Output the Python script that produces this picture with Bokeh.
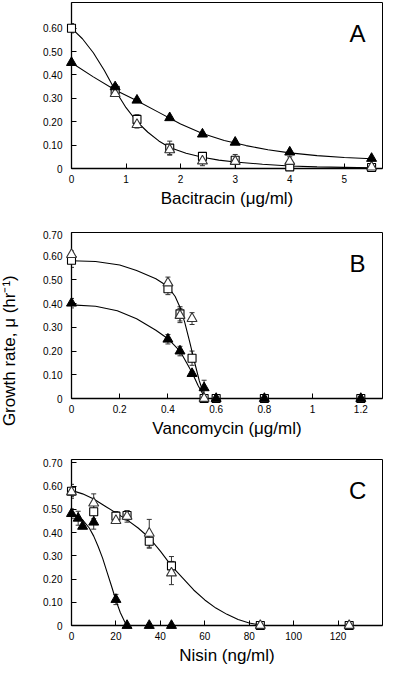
from bokeh.plotting import figure
from bokeh.layouts import column, row
from bokeh.models import ColumnDataSource, Whisker, TeeHead, FixedTicker, Label, Range1d
from bokeh.core.properties import value
from bokeh.embed import file_html
from bokeh.resources import INLINE

FONT = "Liberation Sans"

# ---------------- Panel A : Bacitracin ----------------
bac_sq_x = [0, 0.8, 1.2, 1.8, 2.4, 3, 4, 5.5]
bac_sq_y = [0.60, 0.335, 0.21, 0.087, 0.052, 0.035, 0.007, 0.004]
bac_sq_err = [0.02, 0.01, 0.02, 0.03, 0.015, 0.01, 0, 0]
bac_otri_x = [0.8, 1.2, 1.8, 2.4, 3, 4, 5.5]
bac_otri_y = [0.32, 0.188, 0.08, 0.032, 0.03, 0.03, 0.006]
bac_otri_err = [0.01, 0.015, 0.02, 0.02, 0.03, 0.02, 0]
bac_ftri_x = [0, 0.8, 1.2, 1.8, 2.4, 3, 4, 5.5]
bac_ftri_y = [0.453, 0.349, 0.292, 0.217, 0.147, 0.112, 0.07, 0.043]
bac_ftri_err = [0.005, 0.01, 0.005, 0.005, 0.005, 0.005, 0.005, 0]
bac_fit1_x = [0, 0.4, 0.8, 1.2, 1.6, 2.0, 2.4, 2.8, 3.2, 3.6, 4.0, 4.5, 5.0, 5.5]
bac_fit1_y = [0.452, 0.392, 0.336, 0.29, 0.24, 0.19, 0.15, 0.12, 0.098, 0.08, 0.067, 0.055, 0.047, 0.042]
bac_fit2_x = [0, 0.2, 0.4, 0.6, 0.8, 1.0, 1.2, 1.4, 1.6, 1.8, 2.1, 2.4, 2.7, 3.0, 3.5, 4.0, 4.5, 5.0, 5.5]
bac_fit2_y = [0.60, 0.555, 0.495, 0.42, 0.335, 0.26, 0.2, 0.155, 0.118, 0.09, 0.065, 0.048, 0.036, 0.028, 0.018, 0.011, 0.007, 0.005, 0.003]
bac_xticks = [0, 1, 2, 3, 4, 5]
bac_xlabels = ["0", "1", "2", "3", "4", "5"]

# ---------------- Panel B : Vancomycin ----------------
van_sq_x = [0, 0.4, 0.45, 0.5, 0.55, 0.6, 0.8, 1.2]
van_sq_y = [0.583, 0.463, 0.357, 0.17, 0.0, 0.0, 0.0, 0.0]
van_sq_err = [0.03, 0.025, 0.03, 0.03, 0, 0, 0, 0]
van_otri_x = [0, 0.4, 0.45, 0.5, 0.55]
van_otri_y = [0.607, 0.487, 0.35, 0.337, 0.0]
van_otri_err = [0.015, 0.025, 0.03, 0.025, 0]
van_ftri_x = [0, 0.4, 0.45, 0.5, 0.55, 0.6, 0.8, 1.2]
van_ftri_y = [0.402, 0.25, 0.2, 0.105, 0.045, 0.0, 0.0, 0.0]
van_ftri_err = [0.02, 0.02, 0.02, 0.01, 0.032, 0, 0, 0]
van_fit1_x = [0, 0.1, 0.2, 0.27, 0.35, 0.4, 0.43, 0.45, 0.47, 0.49, 0.51, 0.53, 0.555]
van_fit1_y = [0.581, 0.578, 0.563, 0.54, 0.505, 0.472, 0.43, 0.385, 0.32, 0.24, 0.155, 0.075, 0.0]
van_fit2_x = [0, 0.1, 0.19, 0.27, 0.35, 0.4, 0.45, 0.5, 0.525, 0.555]
van_fit2_y = [0.395, 0.389, 0.37, 0.336, 0.288, 0.252, 0.2, 0.11, 0.055, 0.0]
van_xticks = [0, 0.2, 0.4, 0.6, 0.8, 1.0, 1.2]
van_xlabels = ["0", "0.2", "0.4", "0.6", "0.8", "1", "1.2"]

# ---------------- Panel C : Nisin ----------------
nis_sq_x = [0, 10, 20, 25, 35, 45, 85, 125]
nis_sq_y = [0.578, 0.49, 0.471, 0.474, 0.363, 0.257, 0.0, 0.0]
nis_sq_err = [0.03, 0.03, 0.02, 0.02, 0.03, 0.04, 0, 0]
nis_otri_x = [0, 10, 20, 25, 35, 45, 85, 125]
nis_otri_y = [0.575, 0.527, 0.452, 0.47, 0.397, 0.226, 0.0, 0.0]
nis_otri_err = [0.02, 0.04, 0.01, 0.025, 0.06, 0.05, 0, 0]
nis_ftri_x = [0, 3, 5, 10, 20, 25, 35, 45]
nis_ftri_y = [0.482, 0.462, 0.427, 0.445, 0.112, 0.0, 0.0, 0.0]
nis_ftri_err = [0.02, 0.03, 0.0, 0.03, 0.022, 0, 0, 0]
nis_fit1_x = [0, 5, 10, 15, 20, 25, 30, 35, 40, 45, 50, 55, 60, 65, 70, 75, 80, 85]
nis_fit1_y = [0.582, 0.567, 0.545, 0.515, 0.485, 0.455, 0.42, 0.378, 0.32, 0.257, 0.205, 0.153, 0.11, 0.075, 0.048, 0.026, 0.011, 0.002]
nis_fit2_x = [0, 3, 5, 8, 10, 12, 14, 16, 18, 20, 22, 24, 25]
nis_fit2_y = [0.48, 0.468, 0.455, 0.42, 0.385, 0.34, 0.29, 0.23, 0.17, 0.108, 0.055, 0.015, 0.0]
nis_xticks = [0, 20, 40, 60, 80, 100, 120]
nis_xlabels = ["0", "20", "40", "60", "80", "100", "120"]

y_ticks = [0, 0.1, 0.2, 0.3, 0.4, 0.5, 0.6, 0.7]
y_labels = ["0", "0.10", "0.20", "0.30", "0.40", "0.50", "0.60", "0.70"]

panel_letters = ["A", "B", "C"]
x_titles = ["Bacitracin (\u03bcg/ml)", "Vancomycin (\u03bcg/ml)", "Nisin (ng/ml)"]
y_title = "Growth rate, \u03bc (hr\u207b\u00b9)"

FRAME_H = 166
TITLE_W = 26
PANEL_W = 358
TOTAL_H = 667


def make_panel(xmax, ymax, ytop_tick, xticks, xlabels, xtitle, letter, bottom,
               sq, otri, ftri, fits):
    p = figure(width=PANEL_W, height=2 + FRAME_H + bottom,
               x_range=Range1d(0, xmax), y_range=Range1d(0, ymax),
               output_backend="svg", toolbar_location=None,
               min_border_left=45, min_border_right=2, min_border_top=2,
               min_border_bottom=bottom, background_fill_color="white",
               border_fill_color="white")
    p.xgrid.visible = False
    p.ygrid.visible = False
    p.outline_line_color = "black"
    p.outline_line_width = 1
    p.outline_line_alpha = 1

    for ax in (p.xaxis[0], p.yaxis[0]):
        ax.major_tick_in = 5
        ax.major_tick_out = 0
        ax.minor_tick_in = 0
        ax.minor_tick_out = 0
        ax.axis_line_color = "black"
        ax.axis_line_width = 1.3
        ax.major_tick_line_color = "black"
        ax.major_label_text_font = FONT
        ax.major_label_text_font_size = "10px"
        ax.major_label_text_color = "black"
        ax.axis_label_text_font = FONT
        ax.axis_label_text_font_style = "normal"
        ax.axis_label_text_color = "black"

    p.xaxis.ticker = FixedTicker(ticks=xticks)
    p.xaxis.major_label_overrides = dict(zip(xticks, xlabels))
    p.xaxis.major_label_standoff = 6
    p.xaxis.axis_label = xtitle
    p.xaxis.axis_label_text_font_size = "17px"
    p.xaxis.axis_label_standoff = 3

    yt = [t for t in y_ticks if t <= ytop_tick + 1e-9]
    p.yaxis.ticker = FixedTicker(ticks=yt)
    p.yaxis.major_label_overrides = dict(zip(y_ticks, y_labels))
    p.yaxis.major_label_standoff = 9

    # error bars
    for (xs, ys, es) in (sq, otri, ftri):
        bx = [x for x, e in zip(xs, es) if e > 0]
        up = [y + e for y, e in zip(ys, es) if e > 0]
        lo = [max(y - e, 0) for y, e in zip(ys, es) if e > 0]
        src = ColumnDataSource(dict(base=bx, upper=up, lower=lo))
        w = Whisker(base="base", upper="upper", lower="lower", source=src,
                    line_color="#333333", line_width=1,
                    upper_head=TeeHead(size=5, line_color="#333333", line_width=1),
                    lower_head=TeeHead(size=5, line_color="#333333", line_width=1))
        p.add_layout(w)

    for fx, fy in fits:
        p.line(fx, fy, line_color="black", line_width=1.1)

    p.scatter(sq[0], sq[1], marker="square", size=8, fill_color="white",
              line_color="black", line_width=1.1, level="overlay")
    p.scatter(otri[0], otri[1], marker="triangle", size=10, fill_color="white",
              line_color="#333333", line_width=1.1, level="overlay")
    p.scatter(ftri[0], ftri[1], marker="triangle", size=10, fill_color="black",
              line_color="black", line_width=1, level="overlay")

    p.add_layout(Label(x=xmax * 0.92, y=ymax * 0.815, text=letter,
                       text_font=FONT, text_font_size="24px",
                       text_align="center", text_baseline="middle",
                       text_color="black"))
    return p


pA = make_panel(5.7, 0.71, 0.6, bac_xticks, bac_xlabels, x_titles[0], panel_letters[0], 62,
                (bac_sq_x, bac_sq_y, bac_sq_err),
                (bac_otri_x, bac_otri_y, bac_otri_err),
                (bac_ftri_x, bac_ftri_y, bac_ftri_err),
                [(bac_fit1_x, bac_fit1_y), (bac_fit2_x, bac_fit2_y)])
pB = make_panel(1.29, 0.70, 0.7, van_xticks, van_xlabels, x_titles[1], panel_letters[1], 59,
                (van_sq_x, van_sq_y, van_sq_err),
                (van_otri_x, van_otri_y, van_otri_err),
                (van_ftri_x, van_ftri_y, van_ftri_err),
                [(van_fit1_x, van_fit1_y), (van_fit2_x, van_fit2_y)])
pC = make_panel(140, 0.715, 0.7, nis_xticks, nis_xlabels, x_titles[2], panel_letters[2], 42,
                (nis_sq_x, nis_sq_y, nis_sq_err),
                (nis_otri_x, nis_otri_y, nis_otri_err),
                (nis_ftri_x, nis_ftri_y, nis_ftri_err),
                [(nis_fit1_x, nis_fit1_y), (nis_fit2_x, nis_fit2_y)])

# shared y-axis title in its own narrow strip (pixel coordinates of the strip)
pT = figure(width=TITLE_W, height=TOTAL_H, x_range=Range1d(0, TITLE_W),
            y_range=Range1d(0, TOTAL_H), x_axis_type=None, y_axis_type=None,
            output_backend="svg", toolbar_location=None, min_border=0,
            background_fill_color="white", border_fill_color="white")
pT.outline_line_color = None
pT.xgrid.visible = False
pT.ygrid.visible = False
pT.add_layout(Label(x=TITLE_W * 0.35, y=TOTAL_H * 0.475, text=y_title, angle=1.5707963,
                    text_font=FONT, text_font_size="17px", text_align="center",
                    text_baseline="middle", text_color="black"))

layout = row(pT, column(pA, pB, pC, spacing=0), spacing=0)
open("out.html", "w").write(file_html(layout, INLINE))
